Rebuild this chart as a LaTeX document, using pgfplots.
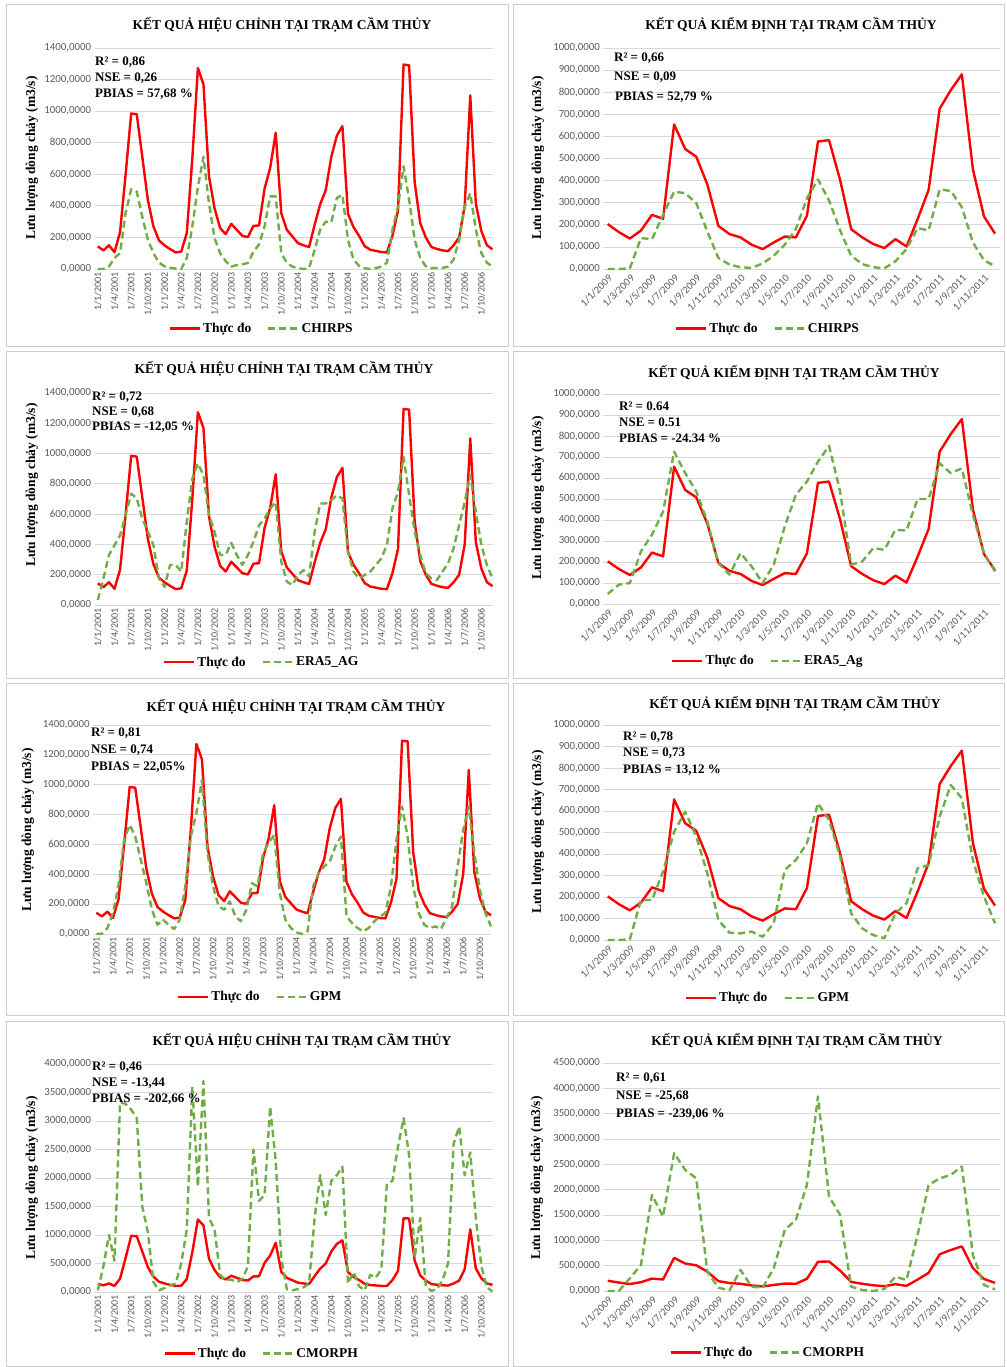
\documentclass[border=0pt]{standalone}
\usepackage{fontspec}
\setmainfont{Liberation Serif}
\newfontfamily\tickfont{Carlito}
\usepackage{pgfplots}
\usepackage{pgfplotstable}
\pgfplotsset{compat=1.18}

\definecolor{obsred}{RGB}{255,0,0}
\definecolor{simgreen}{RGB}{112,173,71}
\definecolor{gridgray}{RGB}{217,217,217}
\definecolor{tickgray}{RGB}{89,89,89}
\definecolor{framegray}{RGB}{205,205,205}

% calibration period, monthly 1/2001 - 12/2006 (m3/s)
\pgfplotstableread{
i obs chirps era5 gpm cmorph
0 143 0 33 0 30
1 118 0 175 2 450
2 150 15 330 40 1000
3 107 70 395 140 550
4 234 100 460 330 3330
5 600 355 595 631 3300
6 985 505 735 731 3200
7 980 490 705 653 3050
8 710 330 570 497 1500
9 437 185 485 341 1050
10 270 100 395 163 175
11 181 40 175 62 30
12 150 17 120 96 70
13 126 8 265 62 117
14 105 3 265 33 146
15 110 0 220 96 497
16 227 70 550 319 1100
17 700 270 835 653 3600
18 1273 520 935 809 1850
19 1170 710 857 1032 3700
20 585 415 595 542 1300
21 385 195 485 319 1100
22 259 100 330 185 300
23 221 50 330 163 200
24 286 15 410 218 220
25 248 25 330 118 170
26 210 30 265 85 230
27 202 38 330 163 450
28 273 110 418 341 2500
29 276 155 527 319 1600
30 510 270 571 542 1700
31 640 460 637 609 3250
32 863 460 681 664 2300
33 354 100 286 274 600
34 248 40 154 96 50
35 206 15 132 40 30
36 164 5 198 11 50
37 150 0 230 0 80
38 139 5 187 18 150
39 280 120 483 319 1300
40 410 250 670 408 2050
41 500 300 670 453 1350
42 710 295 692 486 1950
43 845 450 725 586 2050
44 905 470 703 653 2200
45 350 185 352 118 150
46 265 60 220 74 350
47 210 20 176 40 100
48 145 5 198 18 30
49 122 0 220 40 300
50 115 5 264 85 250
51 107 15 308 118 400
52 105 40 396 140 1900
53 210 250 637 319 1950
54 370 395 747 631 2550
55 1295 650 978 854 3050
56 1290 440 725 653 2400
57 550 185 484 319 600
58 290 70 330 140 1300
59 200 17 209 62 100
60 140 5 176 40 20
61 127 7 165 51 50
62 118 7 220 33 200
63 113 15 275 107 500
64 150 60 374 185 2600
65 200 185 528 453 2900
66 400 395 681 698 2050
67 1100 480 857 854 2450
68 415 250 615 542 1300
69 240 100 396 297 450
70 150 40 264 140 80
71 125 15 176 51 10
}\calib

% verification period, monthly 1/2009 - 12/2011 (m3/s)
\pgfplotstableread{
i obs chirps era5 gpm cmorph
0 203 0 48 0 0
1 167 0 92 0 0
2 138 3 100 3 250
3 174 140 250 186 514
4 245 135 330 186 1897
5 227 245 440 318 1470
6 654 350 726 504 2720
7 543 343 623 597 2390
8 508 298 536 481 2225
9 383 170 393 310 380
10 195 50 195 93 66
11 158 20 140 34 13
12 143 8 242 31 415
13 110 5 179 39 86
14 90 25 100 15 66
15 120 60 187 78 448
16 147 110 369 326 1205
17 143 180 520 372 1403
18 241 320 583 450 2095
19 577 405 678 636 3840
20 583 310 753 558 1864
21 403 175 536 388 1502
22 180 60 187 124 86
23 143 22 203 54 20
24 113 8 266 23 0
25 95 3 258 8 40
26 135 35 353 124 283
27 102 90 350 171 217
28 225 185 500 333 1107
29 358 175 500 349 2095
30 726 360 670 574 2225
31 809 353 623 721 2292
32 881 280 646 659 2457
33 451 120 425 372 711
34 238 40 242 202 119
35 160 12 155 78 33
}\verif

\pgfplotsset{
  panel/.style={
    scale only axis, anchor=south west, clip=false,
    axis line style={draw=none}, tick style={draw=none},
    ymajorgrids, grid style={gridgray, line width=0.8pt},
    ymin=0, scaled y ticks=false,
    /pgf/number format/assume math mode=true,
    yticklabel style={font=\tickfont\fontsize{10.8}{12}\selectfont, text=tickgray,
      /pgf/number format/.cd, fixed, fixed zerofill, precision=4, use comma, 1000 sep={}},
    legend columns=2,
    legend style={draw=none, fill=none, anchor=center,
      font=\bfseries\fontsize{13.5}{15}\selectfont,
      /tikz/every even column/.append style={column sep=14pt}},
    legend image code/.code={\draw[##1] (0pt,0pt) -- (30pt,0pt);},
  },
  calibx/.style={panel, width=398pt, xmin=-0.6, xmax=71,
    xtick={0,3,...,69},
    xticklabels={1/1/2001,1/4/2001,1/7/2001,1/10/2001,
      1/1/2002,1/4/2002,1/7/2002,1/10/2002,
      1/1/2003,1/4/2003,1/7/2003,1/10/2003,
      1/1/2004,1/4/2004,1/7/2004,1/10/2004,
      1/1/2005,1/4/2005,1/7/2005,1/10/2005,
      1/1/2006,1/4/2006,1/7/2006,1/10/2006},
    xticklabel style={font=\tickfont\fontsize{10}{11}\selectfont, text=tickgray,
      rotate=90, anchor=east},
    legend style={at={(0.42,-0.27)}}},
  verifx/.style={panel, width=396.7pt, xmin=-0.4, xmax=35.45,
    xtick={0,2,...,34},
    xticklabels={1/1/2009,1/3/2009,1/5/2009,1/7/2009,1/9/2009,1/11/2009,
      1/1/2010,1/3/2010,1/5/2010,1/7/2010,1/9/2010,1/11/2010,
      1/1/2011,1/3/2011,1/5/2011,1/7/2011,1/9/2011,1/11/2011},
    xticklabel style={font=\tickfont\fontsize{10.5}{11}\selectfont, text=tickgray,
      rotate=45, anchor=north east},
    legend style={at={(0.415,-0.27)}}},
  obs/.style={obsred, line width=2.4pt, line join=round},
  sim/.style={simgreen, line width=2.4pt, line join=round, dash pattern=on 7pt off 4pt},
}

\tikzset{
  ttl/.style={font=\bfseries\fontsize{13.5}{15}\selectfont},
  stat/.style={anchor=west, inner sep=0pt, font=\bfseries\fontsize{13}{15}\selectfont},
  ylab/.style={rotate=90, font=\bfseries\fontsize{13.5}{15}\selectfont},
}

\begin{document}
\begin{tikzpicture}
\path[use as bounding box] (0pt,0pt) rectangle (1006pt,-1367pt);

% panel frames
\begin{scope}[framegray, line width=0.8pt]
\draw (6pt,-4pt) rectangle (508pt,-346pt);
\draw (513pt,-4pt) rectangle (1004pt,-346pt);
\draw (6pt,-351pt) rectangle (508pt,-678pt);
\draw (513pt,-351pt) rectangle (1004pt,-678pt);
\draw (6pt,-683pt) rectangle (508pt,-1015pt);
\draw (513pt,-683pt) rectangle (1004pt,-1015pt);
\draw (6pt,-1021pt) rectangle (508pt,-1366pt);
\draw (513pt,-1021pt) rectangle (1004pt,-1366pt);
\end{scope}

% ---- row 1: CHIRPS
\begin{axis}[calibx, at={(94.5pt,-269pt)}, height=221pt, ymax=1400, ytick={0,200,...,1400}]
\addplot[obs] table[x=i,y=obs]{\calib};
\addlegendentry{Thực đo}
\addplot[sim] table[x=i,y=chirps]{\calib};
\addlegendentry{CHIRPS}
\end{axis}
\begin{axis}[verifx, at={(603.3pt,-269pt)}, height=221pt, ymax=1000, ytick={0,100,...,1000}]
\addplot[obs] table[x=i,y=obs]{\verif};
\addlegendentry{Thực đo}
\addplot[sim] table[x=i,y=chirps]{\verif};
\addlegendentry{CHIRPS}
\end{axis}

% ---- row 2: ERA5
\begin{axis}[calibx, at={(94.5pt,-605pt)}, height=212pt, ymax=1400, ytick={0,200,...,1400}]
\addplot[obs] table[x=i,y=obs]{\calib};
\addlegendentry{Thực đo}
\addplot[sim] table[x=i,y=era5]{\calib};
\addlegendentry{ERA5\_AG}
\end{axis}
\begin{axis}[verifx, at={(603.3pt,-604pt)}, height=210pt, ymax=1000, ytick={0,100,...,1000}]
\addplot[obs] table[x=i,y=obs]{\verif};
\addlegendentry{Thực đo}
\addplot[sim] table[x=i,y=era5]{\verif};
\addlegendentry{ERA5\_Ag}
\end{axis}

% ---- row 3: GPM
\begin{axis}[calibx, at={(93pt,-934pt)}, height=209pt, ymax=1400, ytick={0,200,...,1400},
  legend style={at={(0.42,-0.30)}}]
\addplot[obs] table[x=i,y=obs]{\calib};
\addlegendentry{Thực đo}
\addplot[sim] table[x=i,y=gpm]{\calib};
\addlegendentry{GPM}
\end{axis}
\begin{axis}[verifx, at={(603.3pt,-940pt)}, height=215pt, ymax=1000, ytick={0,100,...,1000}]
\addplot[obs] table[x=i,y=obs]{\verif};
\addlegendentry{Thực đo}
\addplot[sim] table[x=i,y=gpm]{\verif};
\addlegendentry{GPM}
\end{axis}

% ---- row 4: CMORPH
\begin{axis}[calibx, at={(94.5pt,-1292pt)}, height=228pt, ymax=4000, ytick={0,500,...,4000}]
\addplot[obs] table[x=i,y=obs]{\calib};
\addlegendentry{Thực đo}
\addplot[sim] table[x=i,y=cmorph]{\calib};
\addlegendentry{CMORPH}
\end{axis}
\begin{axis}[verifx, at={(603.3pt,-1291pt)}, height=228pt, ymax=4500, ytick={0,500,...,4500}]
\addplot[obs] table[x=i,y=obs]{\verif};
\addlegendentry{Thực đo}
\addplot[sim] table[x=i,y=cmorph]{\verif};
\addlegendentry{CMORPH}
\end{axis}

% titles
\node[ttl] at (282pt,-25pt) {KẾT QUẢ HIỆU CHỈNH TẠI TRẠM CẦM THỦY};
\node[ttl] at (791pt,-25pt) {KẾT QUẢ KIỂM ĐỊNH TẠI TRẠM CẦM THỦY};
\node[ttl] at (284pt,-369pt) {KẾT QUẢ HIỆU CHỈNH TẠI TRẠM CẦM THỦY};
\node[ttl] at (794pt,-373pt) {KẾT QUẢ KIỂM ĐỊNH TẠI TRẠM CẦM THỦY};
\node[ttl] at (296pt,-707pt) {KẾT QUẢ HIỆU CHỈNH TẠI TRẠM CẦM THỦY};
\node[ttl] at (795pt,-704pt) {KẾT QUẢ KIỂM ĐỊNH TẠI TRẠM CẦM THỦY};
\node[ttl] at (302pt,-1041pt) {KẾT QUẢ HIỆU CHỈNH TẠI TRẠM CẦM THỦY};
\node[ttl] at (797pt,-1041pt) {KẾT QUẢ KIỂM ĐỊNH TẠI TRẠM CẦM THỦY};

% y labels
\node[ylab] at (32pt,-158pt) {Lưu lượng dòng chảy (m3/s)};
\node[ylab] at (538pt,-158pt) {Lưu lượng dòng chảy (m3/s)};
\node[ylab] at (32pt,-485pt) {Lưu lượng dòng chảy (m3/s)};
\node[ylab] at (538pt,-498pt) {Lưu lượng dòng chảy (m3/s)};
\node[ylab] at (28pt,-830pt) {Lưu lượng dòng chảy (m3/s)};
\node[ylab] at (538pt,-832pt) {Lưu lượng dòng chảy (m3/s)};
\node[ylab] at (32pt,-1178pt) {Lưu lượng dòng chảy (m3/s)};
\node[ylab] at (537pt,-1178pt) {Lưu lượng dòng chảy (m3/s)};

% statistics
\node[stat] at (95pt,-62pt) {R² = 0,86};
\node[stat] at (95pt,-78pt) {NSE = 0,26};
\node[stat] at (95pt,-94pt) {PBIAS = 57,68 \%};
\node[stat] at (614pt,-58pt) {R² = 0,66};
\node[stat] at (614pt,-77pt) {NSE = 0,09};
\node[stat] at (615pt,-97pt) {PBIAS = 52,79 \%};
\node[stat] at (92pt,-397pt) {R² = 0,72};
\node[stat] at (92pt,-412pt) {NSE = 0,68};
\node[stat] at (92pt,-427pt) {PBIAS = -12,05 \%};
\node[stat] at (619pt,-406pt) {R² = 0.64};
\node[stat] at (619pt,-422pt) {NSE = 0.51};
\node[stat] at (619pt,-438pt) {PBIAS = -24.34 \%};
\node[stat] at (91pt,-733pt) {R² = 0,81};
\node[stat] at (91pt,-750pt) {NSE = 0,74};
\node[stat] at (91pt,-767pt) {PBIAS = 22,05\%};
\node[stat] at (623pt,-737pt) {R² = 0,78};
\node[stat] at (623pt,-753pt) {NSE = 0,73};
\node[stat] at (623pt,-770pt) {PBIAS = 13,12 \%};
\node[stat] at (92pt,-1067pt) {R² = 0,46};
\node[stat] at (92pt,-1083pt) {NSE = -13,44};
\node[stat] at (92pt,-1099pt) {PBIAS = -202,66 \%};
\node[stat] at (616pt,-1078pt) {R² = 0,61};
\node[stat] at (616pt,-1096pt) {NSE = -25,68};
\node[stat] at (616pt,-1114pt) {PBIAS = -239,06 \%};
\end{tikzpicture}
\end{document}
